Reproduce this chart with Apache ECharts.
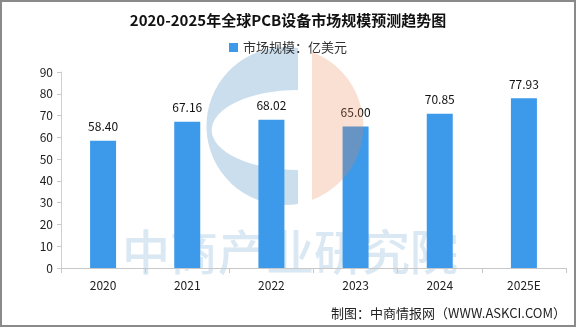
<!doctype html>
<html lang="zh">
<head>
<meta charset="UTF-8">
<title>2020-2025年全球PCB设备市场规模预测趋势图</title>
<script src="https://cdn.jsdelivr.net/npm/echarts@6/dist/echarts.min.js"></script>
<style>
  html, body { margin: 0; padding: 0; background: #fff; }
  #wrap { position: relative; width: 576px; height: 327px; }
  #chart { width: 576px; height: 327px; }
  #frame { position: absolute; left: 0; top: 0; width: 576px; height: 327px; box-sizing: border-box;
           border: 2px solid #8a8a8a; pointer-events: none; }
</style>
</head>
<body>
<div id="wrap">
  <div id="chart"></div>
  <div id="frame"></div>
</div>
<script>
  const years = ['2020', '2021', '2022', '2023', '2024', '2025E']
  const marketSize = [58.40, 67.16, 68.02, 65.00, 70.85, 77.93]
  const seriesName = '市场规模：亿美元'

  const font = '"Noto Sans CJK SC", "Noto Sans", sans-serif'

  // 水印 logo 的两块形状
  echarts.graphic.registerShape('logoBlue',
    echarts.graphic.extendPath('M298,48 A79,79 0 1,0 298,204 L298,170 A82,38 0 0,1 298,90 Z', {}))
  echarts.graphic.registerShape('logoPeach',
    echarts.graphic.extendPath('M312,52 A79,79 0 0,1 312,200 Z', {}))

  let mCharts = echarts.init(document.getElementById('chart'))

  let option = {
    animation: false,
    title: {
      text: '2020-2025年全球PCB设备市场规模预测趋势图',
      left: 'center',
      top: 8,
      textStyle: { fontSize: 15, fontWeight: 'bold', color: '#111', fontFamily: font }
    },
    legend: {
      top: 36,
      left: 'center',
      itemWidth: 9,
      itemHeight: 9,
      icon: 'rect',
      itemGap: 5,
      textStyle: { fontSize: 13, color: '#333', fontFamily: font },
      data: [seriesName]
    },
    grid: { left: 61, right: 10, top: 72, bottom: 59 },
    xAxis: {
      type: 'category',
      data: years,
      axisLine: { lineStyle: { color: '#c8c8c8' } },
      axisTick: { show: true, length: 5, lineStyle: { color: '#c8c8c8' } },
      axisLabel: { color: '#222', fontSize: 12, margin: 11, fontFamily: font }
    },
    yAxis: {
      type: 'value',
      min: 0,
      max: 90,
      interval: 10,
      axisLine: { show: true, lineStyle: { color: '#d0d0d0' } },
      axisTick: { show: true, length: 4, lineStyle: { color: '#c8c8c8' } },
      splitLine: { show: false },
      axisLabel: { color: '#222', fontSize: 12, margin: 8, fontFamily: font }
    },
    graphic: [
      {
        type: 'text', z: 0, x: 290, y: 252,
        style: {
          text: '中商产业研究院', font: '500 48px "Noto Sans CJK SC"', fill: '#dae8f3',
          align: 'center', verticalAlign: 'middle'
        }
      },
      { type: 'logoBlue', z: 0, style: { fill: '#cbdeed' } },
      { type: 'logoPeach', z: 100, style: { fill: 'rgba(235,130,80,0.25)' } },
      {
        type: 'text', z: 10, x: 566, y: 313,
        style: {
          text: '制图：中商情报网（WWW.ASKCI.COM）', font: '13px "Noto Sans CJK SC"', fill: '#222',
          align: 'right', verticalAlign: 'middle'
        }
      }
    ],
    series: [{
      name: seriesName,
      type: 'bar',
      data: marketSize,
      barWidth: 26,
      z: 5,
      itemStyle: { color: '#3d9aea' },
      label: {
        show: true,
        position: 'top',
        distance: 8,
        color: '#111',
        fontSize: 12,
        fontFamily: font,
        formatter: p => p.value.toFixed(2)
      }
    }]
  }
  mCharts.setOption(option)
</script>
</body>
</html>
